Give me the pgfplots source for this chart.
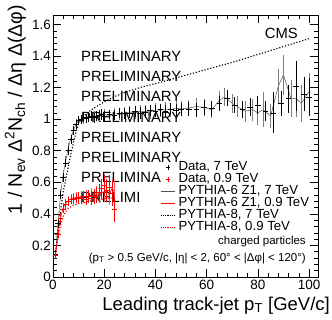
\documentclass[border=0pt]{standalone}
\usepackage{fontspec}
\setmainfont{Liberation Sans}
\usepackage{pgfplots}
\usepackage{pgfplotstable}
\pgfplotsset{compat=1.18}
\definecolor{mcgray}{RGB}{85,85,85}
\definecolor{mcgraybar}{RGB}{125,125,125}
\definecolor{mcred}{RGB}{255,80,80}

\pgfplotstableread[row sep=\\]{
x y ey\\
1 0.145 0.004\\ 2 0.34 0.005\\ 3 0.52 0.006\\ 4 0.63 0.007\\ 5 0.72 0.007\\
6 0.80 0.008\\ 7 0.87 0.008\\ 8 0.93 0.009\\ 9 0.965 0.009\\ 10 0.99 0.010\\
11 1.00 0.010\\ 12 1.01 0.011\\ 13 1.005 0.011\\ 14 1.012 0.012\\ 15 1.02 0.012\\
16 1.01 0.013\\ 17 1.02 0.013\\ 18 1.025 0.014\\ 19 1.03 0.014\\ 20 1.02 0.015\\
22 1.03 0.012\\ 24 1.025 0.013\\ 26 1.04 0.014\\ 28 1.035 0.015\\ 30 1.04 0.015\\
32 1.05 0.016\\ 34 1.04 0.017\\ 36 1.045 0.018\\ 38 1.055 0.018\\ 40 1.05 0.019\\
42 1.06 0.02\\ 44 1.05 0.02\\ 46 1.065 0.021\\ 48 1.055 0.022\\ 50 1.06 0.022\\
53 1.065 0.024\\ 56 1.06 0.025\\ 59 1.075 0.027\\ 62 1.07 0.028\\ 65 1.10 0.03\\
68 1.135 0.032\\ 71 1.09 0.034\\ 74 1.06 0.036\\ 77 1.075 0.038\\ 80 1.09 0.04\\
83 1.05 0.045\\ 86 1.04 0.11\\ 89 1.10 0.06\\ 92 1.13 0.07\\ 95 1.21 0.14\\
98 1.16 0.09\\ 100 1.14 0.1\\
}\datasev

\pgfplotstableread[row sep=\\]{
x y ey\\
1 0.15 0.004\\ 2 0.35 0.005\\ 3 0.53 0.006\\ 4 0.65 0.007\\ 5 0.74 0.007\\
6 0.82 0.008\\ 7 0.88 0.008\\ 8 0.93 0.009\\ 9 0.97 0.009\\ 10 0.99 0.01\\
12 1.00 0.01\\ 14 1.01 0.011\\ 16 1.02 0.012\\ 18 1.02 0.013\\ 20 1.03 0.014\\
22 1.02 0.015\\ 24 1.035 0.016\\ 26 1.03 0.017\\ 28 1.04 0.018\\ 30 1.045 0.019\\
32 1.04 0.02\\ 34 1.05 0.02\\ 36 1.05 0.021\\ 38 1.045 0.022\\ 40 1.06 0.023\\
42 1.055 0.024\\ 44 1.065 0.025\\ 46 1.06 0.026\\ 48 1.07 0.027\\ 50 1.065 0.028\\
53 1.07 0.03\\ 56 1.08 0.032\\ 59 1.075 0.034\\ 62 1.06 0.036\\ 65 1.12 0.038\\
67 1.14 0.04\\ 70 1.10 0.042\\ 72 1.08 0.045\\ 75 1.05 0.048\\ 78 1.06 0.05\\
80 1.04 0.055\\ 82 1.06 0.09\\ 85 1.02 0.06\\ 88 1.21 0.09\\ 90 1.28 0.11\\
93 1.13 0.1\\ 95 1.13 0.1\\ 97 1.10 0.1\\ 100 1.175 0.1\\
}\mcsev

\pgfplotstableread[row sep=\\]{
x y\\
1 0.14\\ 2 0.30\\ 3 0.43\\ 4 0.54\\ 5 0.62\\ 6 0.70\\ 7 0.78\\ 8 0.85\\ 9 0.92\\
10 0.97\\ 12 1.02\\ 15 1.06\\ 20 1.11\\ 25 1.15\\ 30 1.18\\ 35 1.205\\ 40 1.225\\
50 1.27\\ 60 1.315\\ 70 1.36\\ 80 1.41\\ 90 1.46\\ 100 1.51\\
}\pyesev

\pgfplotstableread[row sep=\\]{
x y ey\\
1 0.14 0.005\\ 2 0.27 0.006\\ 3 0.37 0.007\\ 4 0.43 0.008\\ 5 0.46 0.009\\
6 0.48 0.01\\ 7 0.49 0.011\\ 8 0.495 0.012\\ 9 0.50 0.013\\ 10 0.505 0.015\\
11 0.50 0.016\\ 12 0.51 0.018\\ 13 0.495 0.02\\ 14 0.51 0.022\\ 15 0.50 0.025\\
16 0.51 0.028\\ 17 0.52 0.03\\ 18 0.535 0.035\\ 19 0.56 0.04\\ 20 0.58 0.045\\
21 0.55 0.05\\ 22 0.57 0.055\\ 23 0.53 0.06\\ 24 0.43 0.06\\
}\datanine

\pgfplotstableread[row sep=\\]{
x y ey\\
1 0.14 0.004\\ 2 0.28 0.005\\ 3 0.38 0.006\\ 4 0.44 0.007\\ 5 0.47 0.008\\
6 0.485 0.009\\ 7 0.495 0.01\\ 8 0.50 0.011\\ 9 0.505 0.012\\ 10 0.505 0.013\\
11 0.51 0.014\\ 12 0.505 0.016\\ 13 0.515 0.018\\ 14 0.51 0.02\\ 15 0.52 0.022\\
16 0.515 0.025\\ 17 0.53 0.028\\ 18 0.52 0.031\\ 19 0.54 0.034\\ 20 0.53 0.037\\
21 0.55 0.04\\ 22 0.52 0.044\\ 23 0.56 0.048\\ 24 0.54 0.05\\
}\mcnine

\pgfplotstableread[row sep=\\]{
x y\\
1 0.14\\ 2 0.25\\ 3 0.33\\ 4 0.385\\ 5 0.415\\ 6 0.435\\ 7 0.445\\ 8 0.455\\
10 0.465\\ 12 0.47\\ 14 0.48\\ 16 0.485\\ 18 0.49\\ 20 0.495\\ 22 0.50\\ 24 0.50\\
}\pyenine

\begin{document}
\begin{tikzpicture}[x=1pt,y=1pt]
\useasboundingbox (0,0) rectangle (332,319);
\begin{axis}[
  at={(53pt,42pt)}, anchor=south west,
  scale only axis, width=265pt, height=262pt,
  xmin=0, xmax=103.5, ymin=0, ymax=1.66,
  xtick={0,20,40,60,80,100},
  ytick={0,0.2,0.4,0.6,0.8,1,1.2,1.4,1.6},
  yticklabels={0,0.2,0.4,0.6,0.8,1,1.2,1.4,1.6},
  minor x tick num=4, minor y tick num=4,
  tick align=inside, tick pos=both,
  major tick length=8pt, minor tick length=4pt,
  tick style={black, line width=0.5pt},
  axis line style={line width=0.6pt},
  ticklabel style={font=\fontsize{13.5}{14}\selectfont},
  /pgf/number format/assume math mode=true,
  yticklabel style={xshift=1.5pt},
  xlabel={Leading track-jet p\textsubscript{T} [GeV/c]},
  xlabel style={at={(axis description cs:1.0453,-0.126)}, anchor=base east, font=\fontsize{18.5}{20}\selectfont, inner sep=0pt},
  ylabel={1 / N\textsubscript{ev} Δ\textsuperscript{2}N\textsubscript{ch} / Δη Δ(Δφ)},
  ylabel style={at={(axis description cs:-0.117,1.038)}, anchor=base east, font=\fontsize{19.5}{20}\selectfont, inner sep=0pt},
  legend style={at={(axis description cs:0.4038,0.4415)}, anchor=north west, draw=none, fill=none,
     font=\fontsize{13.2}{13}\selectfont, row sep=0pt, column sep=3.3pt, inner sep=0pt,
     nodes={inner sep=0pt, text height=9.0pt, text depth=3.0pt}},
  legend cell align=left,
  legend image code/.code={\draw[mark repeat=2,mark phase=2,#1] plot coordinates {(0pt,0pt) (7pt,0pt) (14pt,0pt)};},
  clip=false,
]
% PRELIMINARY watermark rows
\node[anchor=base west, inner sep=0pt, font=\fontsize{14.8}{15}\selectfont] at (axis cs:10.94,1.363) {PRELIMINARY};
\node[anchor=base west, inner sep=0pt, font=\fontsize{14.8}{15}\selectfont] at (axis cs:10.94,1.236) {PRELIMINARY};
\node[anchor=base west, inner sep=0pt, font=\fontsize{14.8}{15}\selectfont] at (axis cs:10.94,1.109) {PRELIMINARY};
\node[anchor=base west, inner sep=0pt, font=\fontsize{14.8}{15}\selectfont] at (axis cs:10.94,0.982) {PRELIMINARY};
\node[anchor=base west, inner sep=0pt, font=\fontsize{14.8}{15}\selectfont] at (axis cs:10.94,0.855) {PRELIMINARY};
\node[anchor=base west, inner sep=0pt, font=\fontsize{14.8}{15}\selectfont] at (axis cs:10.94,0.728) {PRELIMINARY};
\node[anchor=base west, inner sep=0pt, font=\fontsize{14.8}{15}\selectfont] at (axis cs:10.94,0.601) {PRELIMINA};
\node[anchor=base west, inner sep=0pt, font=\fontsize{14.8}{15}\selectfont] at (axis cs:10.94,0.474) {PRELIMI};
\node[anchor=base east, inner sep=0pt, font=\fontsize{14.8}{15}\selectfont] at (axis cs:95.7,1.512) {CMS};
\node[anchor=base east, inner sep=0pt, font=\fontsize{11.5}{12}\selectfont] at (axis cs:98.8,0.209) {charged particles};
\node[anchor=base east, inner sep=0pt, font=\fontsize{11.5}{12}\selectfont] at (axis cs:98.8,0.1008) {(p\textsubscript{T} > 0.5 GeV/c, |η| < 2, 60° < |Δφ| < 120°)};

% PYTHIA-6 Z1 7 TeV
\addplot[mcgray, line width=0.5pt, forget plot,
  error bars/.cd, y dir=both, y explicit, error mark=-, error mark options={mcgraybar, mark size=3pt, line width=0.7pt},
  error bar style={mcgraybar, line width=0.7pt}]
  table[x=x, y=y, y error=ey] {\mcsev};
% PYTHIA-8 7 TeV
\addplot[black, line width=1.1pt, dash pattern=on 1.2pt off 1.8pt, forget plot] table[x=x,y=y] {\pyesev};
% Data 7 TeV
\addplot[black, only marks, mark=+, mark size=2.8pt, mark options={line width=0.7pt}, forget plot,
  error bars/.cd, y dir=both, y explicit, error mark=-, error mark options={black, mark size=3pt, line width=0.7pt},
  error bar style={black, line width=0.7pt}]
  table[x=x, y=y, y error=ey] {\datasev};
% PYTHIA-6 Z1 0.9 TeV
\addplot[red, line width=0.6pt, forget plot,
  error bars/.cd, y dir=both, y explicit, error mark=-, error mark options={mcred, mark size=3pt, line width=0.7pt},
  error bar style={mcred, line width=0.7pt}]
  table[x=x, y=y, y error=ey] {\mcnine};
% PYTHIA-8 0.9 TeV
\addplot[red, line width=1.1pt, dash pattern=on 1.2pt off 1.8pt, forget plot] table[x=x,y=y] {\pyenine};
% Data 0.9 TeV
\addplot[red, only marks, mark=+, mark size=2.8pt, mark options={line width=0.7pt}, forget plot,
  error bars/.cd, y dir=both, y explicit, error mark=-, error mark options={red, mark size=3pt, line width=0.7pt},
  error bar style={red, line width=0.7pt}]
  table[x=x, y=y, y error=ey] {\datanine};

\addlegendimage{black, only marks, mark=+, mark size=2.2pt}
\addlegendentry{Data, 7 TeV}
\addlegendimage{red, only marks, mark=+, mark size=2.2pt}
\addlegendentry{Data, 0.9 TeV}
\addlegendimage{mcgray, line width=1pt}
\addlegendentry{PYTHIA-6 Z1, 7 TeV}
\addlegendimage{red, line width=1pt}
\addlegendentry{PYTHIA-6 Z1, 0.9 TeV}
\addlegendimage{black, line width=1pt, dash pattern=on 1pt off 1.2pt}
\addlegendentry{PYTHIA-8, 7 TeV}
\addlegendimage{red, line width=1pt, dash pattern=on 1pt off 1.2pt}
\addlegendentry{PYTHIA-8, 0.9 TeV}
\end{axis}
\end{tikzpicture}
\end{document}
